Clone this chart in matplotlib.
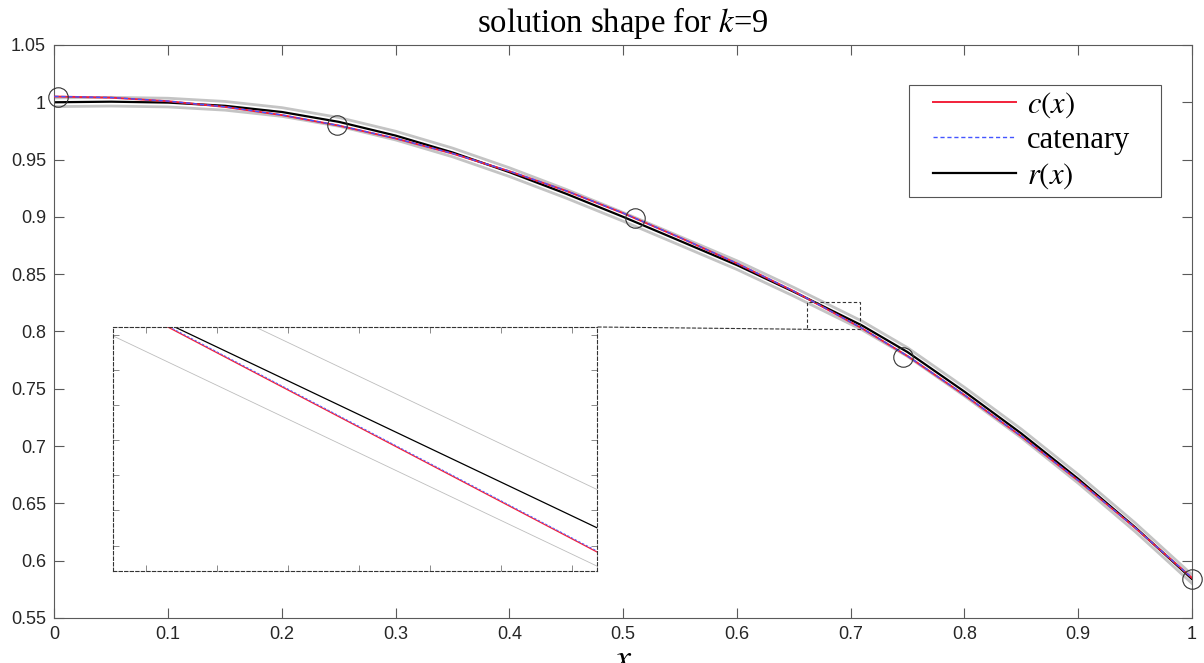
import numpy as np
import matplotlib
matplotlib.use("Agg")
import matplotlib.pyplot as plt
from matplotlib.patches import Rectangle, ConnectionPatch

plt.rcParams['font.family'] = ['Liberation Sans', 'DejaVu Sans']
plt.rcParams['mathtext.fontset'] = 'stix'

# data
xs = [0.0, 0.05, 0.1, 0.15, 0.2, 0.25, 0.3, 0.35, 0.4, 0.45, 0.5,
      0.55, 0.6, 0.65, 0.71, 0.75, 0.8, 0.85, 0.9, 0.95, 1.0]
c_vals = [1.0050, 1.0040, 1.0009, 0.9959, 0.9888, 0.9796, 0.9684, 0.9552, 0.9398, 0.9226, 0.9032,
          0.8818, 0.8594, 0.8351, 0.8027, 0.7785, 0.7445, 0.7085, 0.6699, 0.6287, 0.5850]
cat_vals = [1.0051, 1.0041, 1.0010, 0.9960, 0.9889, 0.9797, 0.9685, 0.9553, 0.9399, 0.9227, 0.9033,
            0.8819, 0.8595, 0.8352, 0.8028, 0.7786, 0.7446, 0.7086, 0.6700, 0.6288, 0.5851]
r_vals = [1.0000, 1.0005, 0.9997, 0.9969, 0.9915, 0.9829, 0.9709, 0.9562, 0.9390, 0.9201, 0.9000,
          0.8790, 0.8579, 0.8346, 0.8052, 0.7820, 0.7475, 0.7110, 0.6714, 0.6292, 0.5840]
r_upper = [1.0038, 1.0043, 1.0035, 1.0007, 0.9953, 0.9867, 0.9747, 0.9600, 0.9428, 0.9239, 0.9038,
           0.8828, 0.8617, 0.8384, 0.8090, 0.7858, 0.7513, 0.7148, 0.6752, 0.6330, 0.5878]
r_lower = [0.9962, 0.9967, 0.9959, 0.9931, 0.9877, 0.9791, 0.9671, 0.9524, 0.9352, 0.9163, 0.8962,
           0.8752, 0.8541, 0.8308, 0.8014, 0.7782, 0.7437, 0.7072, 0.6676, 0.6254, 0.5802]
mark_x = [0.003, 0.248, 0.510, 0.746, 1.0]
mark_y = [1.0046, 0.980, 0.8988, 0.7780, 0.5840]

xticks = [0, 0.1, 0.2, 0.3, 0.4, 0.5, 0.6, 0.7, 0.8, 0.9, 1]
xticklabels = ['0', '0.1', '0.2', '0.3', '0.4', '0.5', '0.6', '0.7', '0.8', '0.9', '1']
yticks = [0.55, 0.6, 0.65, 0.7, 0.75, 0.8, 0.85, 0.9, 0.95, 1.0, 1.05]
yticklabels = ['0.55', '0.6', '0.65', '0.7', '0.75', '0.8', '0.85', '0.9', '0.95', '1', '1.05']

# zoom window
zx0, zx1 = 0.6614, 0.708
zy0, zy1 = 0.8019, 0.8261

red = '#f2203a'
blue = '#4455ff'
grey = '#c4c4c4'
axcol = '#5a5a5a'

fig = plt.figure(figsize=(12.04, 6.63), dpi=100)
ax = fig.add_axes([0.0452, 0.0679, 0.9448, 0.8643])

ax.plot(xs, r_upper, color=grey, lw=2, zorder=1)
ax.plot(xs, r_lower, color=grey, lw=2, zorder=1)
ax.plot(xs, r_vals, color='black', lw=1.6, zorder=2, label=r'$\mathit{r(x)}$')
ax.plot(xs, c_vals, color=red, lw=1.4, zorder=3, label=r'$\mathit{c(x)}$')
ax.plot(xs, cat_vals, color=blue, lw=1.0, ls=(0, (3, 2)), zorder=4, label='catenary')
ax.plot(mark_x, mark_y, 'o', mfc='none', mec='#333333', ms=14, mew=0.8, zorder=5, clip_on=False)

ax.set_xlim(0, 1)
ax.set_ylim(0.55, 1.05)
ax.set_xticks(xticks)
ax.set_xticklabels(xticklabels)
ax.set_yticks(yticks)
ax.set_yticklabels(yticklabels)
ax.tick_params(direction='in', length=7, width=0.8, color=axcol, labelcolor='#262626',
               labelsize=13, top=True, right=True, pad=6)
for s in ax.spines.values():
    s.set_color(axcol)
    s.set_linewidth(0.8)

ax.set_title(r'solution shape for $k$=9', fontsize=23.5, family='Liberation Serif', pad=9)
ax.set_xlabel(r'$x$', fontsize=26, labelpad=-1)

# legend box drawn separately so its padding matches
ax.add_patch(Rectangle((0.7514, 0.7347), 0.2218, 0.1955, transform=ax.transAxes,
                       facecolor='white', edgecolor='#555555', lw=0.8, zorder=6))
h, l = ax.get_legend_handles_labels()
order = [1, 2, 0]
leg = ax.legend([h[i] for i in order], [l[i] for i in order], loc='upper left',
                bbox_to_anchor=(0.7725, 0.9215), borderaxespad=0, frameon=False,
                handlelength=2.71, handletextpad=0.36, labelspacing=0.21, borderpad=0,
                prop={'family': 'Liberation Serif', 'size': 22})
leg.set_zorder(7)

# zoom box and inset
ax.add_patch(Rectangle((zx0, zy0), zx1 - zx0, zy1 - zy0, fill=False, ls=(0, (3, 2)),
                       ec='#333333', lw=0.8, zorder=6))

axins = fig.add_axes([0.0939, 0.1388, 0.402, 0.368])
axins.plot(xs, r_upper, color='#bdbdbd', lw=0.6)
axins.plot(xs, r_lower, color='#bdbdbd', lw=0.6)
axins.plot(xs, r_vals, color='black', lw=0.9)
axins.plot(xs, c_vals, color=red, lw=0.9)
axins.plot(xs, cat_vals, color=blue, lw=0.6, ls=(0, (3, 2)))
axins.set_xlim(zx0, zx1)
axins.set_ylim(zy0, zy1)
fx = [0.0676, 0.2143, 0.361, 0.5077, 0.6544, 0.8011, 0.9478]
fy = [0.104, 0.248, 0.392, 0.535, 0.679, 0.823, 0.967]
axins.set_xticks([zx0 + (zx1 - zx0) * f for f in fx])
axins.set_yticks([zy0 + (zy1 - zy0) * f for f in fy])
axins.tick_params(direction='in', length=4, width=0.6, color='#777777',
                  labelbottom=False, labelleft=False, top=True, right=True)
for s in axins.spines.values():
    s.set_linestyle((0, (3, 2)))
    s.set_color('#333333')
    s.set_linewidth(0.8)

con = ConnectionPatch(xyA=(zx0, zy0), coordsA=ax.transData, xyB=(1, 1), coordsB=axins.transAxes,
                      ls=(0, (3, 2)), color='#333333', lw=0.8)
fig.add_artist(con)

fig.savefig('out.png', dpi=100)
